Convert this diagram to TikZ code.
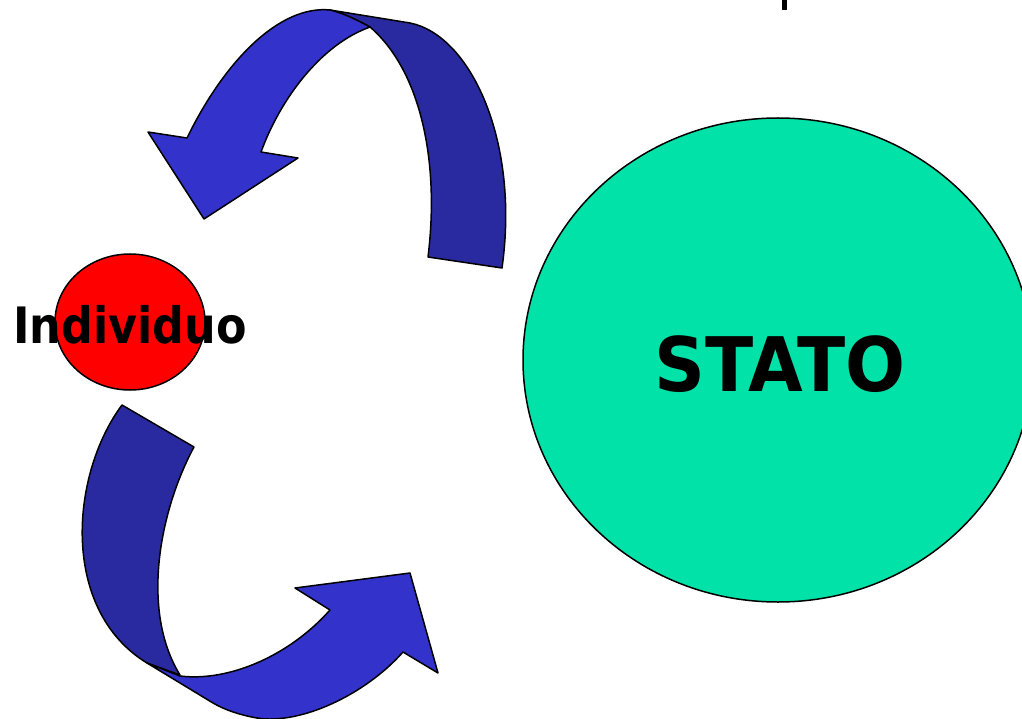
\documentclass[tikz,border=0pt]{standalone}
\usepackage{fontspec}
\usepackage{graphicx}
\usetikzlibrary{shapes.geometric}
\setmainfont{DejaVu Sans}
\definecolor{arrowlight}{RGB}{51,51,204}
\definecolor{arrowdark}{RGB}{42,42,160}
\definecolor{statogreen}{RGB}{0,226,168}
\tikzset{
  outline/.style={draw=black, line width=1.5pt, line join=round},
  lbl/.style={inner sep=0pt, font=\bfseries},
}
\begin{document}
\begin{tikzpicture}[x=1pt,y=-1pt]
\useasboundingbox (0,0) rectangle (1022,719);
% ellipses
\node[ellipse, draw=black, line width=1.5pt, fill=statogreen, minimum width=510pt, minimum height=484pt, inner sep=0pt] (stato) at (778,360) {};
\node[ellipse, draw=black, line width=1.5pt, fill=red, minimum width=150pt, minimum height=136pt, inner sep=0pt] (ind) at (130,322) {};
% text
\node[lbl] (statotxt) at (780,364) {\fontsize{66}{70}\selectfont\scalebox{1.07}[1.14]{STATO}};
\node[lbl] (indtxt) at (130,325) {\fontsize{44}{48}\selectfont\scalebox{1.01}[1.14]{Individuo}};
% top arrow: dark back band
\fill[arrowdark, outline] (330,10) -- (410,23) .. controls (470,35) and (520,140) .. (502,268)
  -- (428,257) .. controls (440,160) and (420,70) .. (370,27)
  .. controls (357,20) and (343,13) .. (330,10) -- cycle;
% top arrow: light front with head
\fill[arrowlight, outline] (330,10) .. controls (280,5) and (225,60) .. (187,138)
  -- (148,132) -- (204,219) -- (298,158) -- (261,152)
  .. controls (280,100) and (320,45) .. (370,27)
  .. controls (357,20) and (343,13) .. (330,10) -- cycle;
% bottom arrow: dark back band
\fill[arrowdark, outline] (122,405) -- (194,447) .. controls (160,510) and (140,610) .. (180,675)
  -- (147,663) .. controls (60,610) and (70,475) .. (122,405) -- cycle;
% bottom arrow: light front with head
\fill[arrowlight, outline] (147,663) -- (180,676) .. controls (230,682) and (290,655) .. (330,610)
  -- (295,588) -- (410,573) -- (438,673) -- (403,652)
  .. controls (365,695) and (300,725) .. (257,718)
  .. controls (240,715) and (225,710) .. (213,703) -- cycle;
% fragment of cut-off text at top
\fill[black] (782,0) rectangle (787,10);
\end{tikzpicture}
\end{document}
